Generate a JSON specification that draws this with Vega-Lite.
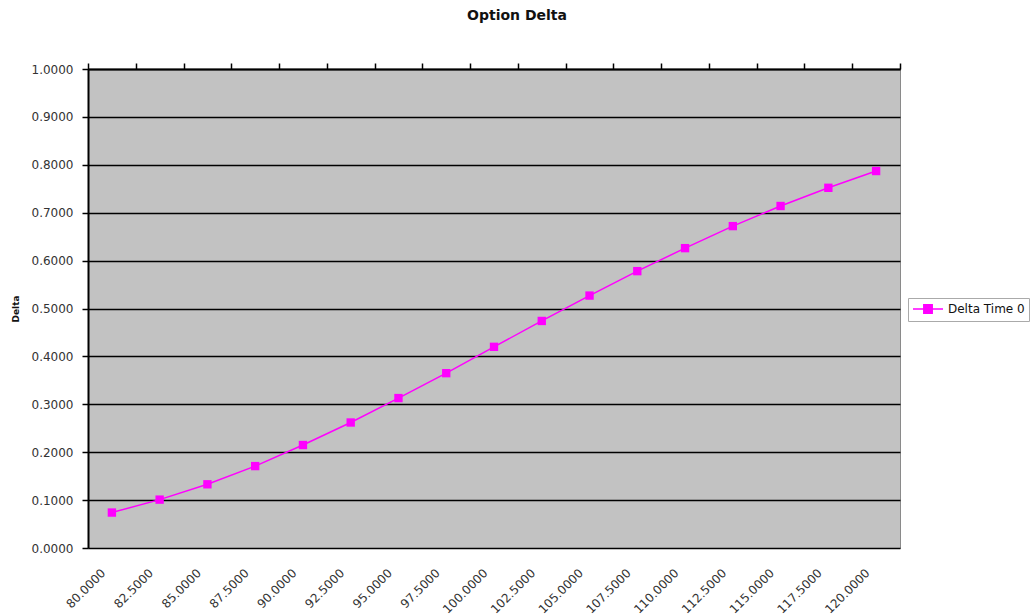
{
  "$schema": "https://vega.github.io/schema/vega-lite/v6.json",
  "width": 812,
  "height": 479,
  "autosize": {"type": "none"},
  "padding": {"left": 88, "top": 69, "right": 136, "bottom": 67},
  "background": "white",
  "config": {
    "font": "DejaVu Sans",
    "view": {"fill": "#c2c2c2", "stroke": "#8a8a8a", "strokeWidth": 1}
  },
  "title": {
    "text": "Option Delta",
    "font": "DejaVu Sans",
    "fontSize": 14,
    "fontWeight": "bold",
    "color": "#111",
    "anchor": "middle",
    "dx": 23,
    "offset": 39
  },
  "data": {
    "values": [
      {"strike": 80, "delta": 0.074, "series": "Delta Time 0"},
      {"strike": 82.5, "delta": 0.101, "series": "Delta Time 0"},
      {"strike": 85, "delta": 0.133, "series": "Delta Time 0"},
      {"strike": 87.5, "delta": 0.171, "series": "Delta Time 0"},
      {"strike": 90, "delta": 0.215, "series": "Delta Time 0"},
      {"strike": 92.5, "delta": 0.262, "series": "Delta Time 0"},
      {"strike": 95, "delta": 0.313, "series": "Delta Time 0"},
      {"strike": 97.5, "delta": 0.365, "series": "Delta Time 0"},
      {"strike": 100, "delta": 0.420, "series": "Delta Time 0"},
      {"strike": 102.5, "delta": 0.474, "series": "Delta Time 0"},
      {"strike": 105, "delta": 0.527, "series": "Delta Time 0"},
      {"strike": 107.5, "delta": 0.578, "series": "Delta Time 0"},
      {"strike": 110, "delta": 0.626, "series": "Delta Time 0"},
      {"strike": 112.5, "delta": 0.672, "series": "Delta Time 0"},
      {"strike": 115, "delta": 0.714, "series": "Delta Time 0"},
      {"strike": 117.5, "delta": 0.752, "series": "Delta Time 0"},
      {"strike": 120, "delta": 0.787, "series": "Delta Time 0"}
    ]
  },
  "layer": [
    {
      "mark": {"type": "line", "strokeWidth": 1.5},
      "encoding": {
        "x": {
          "field": "strike",
          "type": "ordinal",
          "bandPosition": 0.5,
          "scale": {"type": "band", "paddingInner": 0, "paddingOuter": 0},
          "axis": {
            "orient": "top",
            "labels": false,
            "title": null,
            "tickBand": "extent",
            "ticks": true,
            "tickSize": 6,
            "tickColor": "#000",
            "tickWidth": 1.5,
            "domain": true,
            "domainColor": "#000",
            "domainWidth": 2,
            "grid": false
          }
        },
        "y": {
          "field": "delta",
          "type": "quantitative",
          "scale": {"domain": [0, 1], "nice": false, "zero": true},
          "axis": {
            "title": "Delta",
            "titleFont": "DejaVu Sans",
            "titleFontSize": 9,
            "titleFontWeight": "bold",
            "titleColor": "#111",
            "titlePadding": 11,
            "values": [0, 0.1, 0.2, 0.3, 0.4, 0.5, 0.6, 0.7, 0.8, 0.9, 1.0],
            "format": ".4f",
            "labelFont": "DejaVu Sans",
            "labelFontSize": 12,
            "labelColor": "#333",
            "labelPadding": 9,
            "tickSize": 6,
            "tickColor": "#000",
            "tickWidth": 1.5,
            "domainColor": "#000",
            "domainWidth": 2,
            "grid": true,
            "gridColor": "#000",
            "gridWidth": 1.5,
            "gridOpacity": 1
          }
        },
        "color": {
          "field": "series",
          "type": "nominal",
          "scale": {"range": ["#ff00ff"]},
          "legend": {
            "title": null,
            "orient": "none",
            "legendX": 820,
            "legendY": 229,
            "padding": 4,
            "strokeColor": "#aaa",
            "fillColor": "white",
            "labelFont": "DejaVu Sans",
            "labelFontSize": 12,
            "labelColor": "#111",
            "labelOffset": 22,
            "symbolType": "M-1,0L4,0M0.8,-0.7L2.2,-0.7L2.2,0.7L0.8,0.7Z",
            "symbolSize": 144,
            "symbolStrokeWidth": 1.5,
            "symbolFillColor": "#ff00ff",
            "symbolStrokeColor": "#ff00ff"
          }
        }
      }
    },
    {
      "mark": {"type": "point", "shape": "square", "filled": true, "size": 70, "opacity": 1},
      "encoding": {
        "x": {
          "field": "strike",
          "type": "ordinal",
          "bandPosition": 0.5,
          "axis": {
            "orient": "bottom",
            "title": null,
            "format": ".4f",
            "labelFont": "DejaVu Sans",
            "labelAngle": -45,
            "labelFontSize": 12,
            "labelColor": "#333",
            "labelPadding": 19,
            "labelOffset": -12,
            "ticks": false,
            "domain": false,
            "grid": false
          }
        },
        "y": {"field": "delta", "type": "quantitative"},
        "color": {"field": "series", "type": "nominal"}
      }
    }
  ],
  "resolve": {"axis": {"x": "independent"}}
}
